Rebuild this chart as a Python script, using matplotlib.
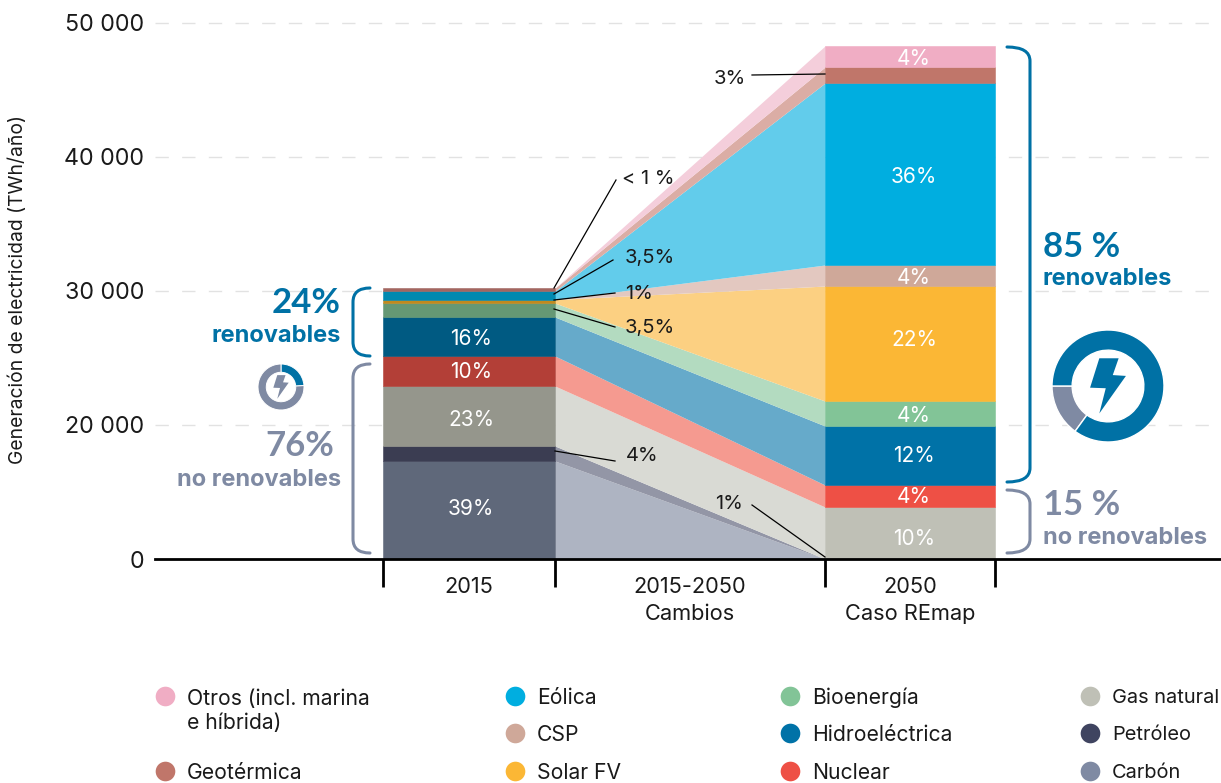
import numpy as np
import matplotlib
matplotlib.use('Agg')
import matplotlib.pyplot as plt
from matplotlib.path import Path
from matplotlib.patches import PathPatch, Polygon

plt.rcParams['font.family'] = ['Inter', 'DejaVu Sans']

# bottom to top, TWh/year as read against the printed axis
sources = ['Carbon', 'Petroleo', 'Gas natural', 'Nuclear', 'Hidro', 'Bioenergia',
           'Solar FV', 'CSP', 'Eolica', 'Geotermica', 'Otros']
values_2015 = [14630, 2240, 6040, 2240, 2910, 1040, 260, 0, 630, 220, 0]
values_2050 = [0, 0, 7760, 3285, 8805, 1940, 8580, 1570, 13580, 1195, 1570]
colors_2015 = ['#5f687a', '#3b3d52', '#95968c', '#b33f37', '#005a82', '#659874',
               '#c08a1e', '#a36660', '#0089b0', '#a36660', '#f0adc4']
colors_change = ['#aeb4c2', '#9396a6', '#d9dad4', '#f59a90', '#66aaca', '#b3dbc0',
                 '#fcd082', '#e3c8c0', '#62cceb', '#dbada5', '#f4cedb']
colors_2050 = ['#7f8aa3', '#3f4460', '#bfc0b6', '#ee5045', '#0072a7', '#82c497',
               '#fbb735', '#cfa899', '#00aee0', '#c0766a', '#f0adc4']
ytick_values = [0, 20000, 30000, 40000, 50000]
ytick_labels = ['0', '20 000', '30 000', '40 000', '50 000']
xtick_labels = ['2015', '2015-2050\nCambios', '2050\nCaso REmap']
edges = [383, 555, 825, 995]
shares_2015 = [24, 76]
shares_2050 = [15, 85]
labels_2015 = ['39%', '23%', '10%', '16%']
labels_2015_y = [507, 418, 370, 337]
labels_2050 = ['10%', '4%', '12%', '4%', '22%', '4%', '36%', '4%']
labels_2050_y = [537, 495, 454, 414, 338, 276, 175, 57]
legend_names = ['Otros (incl. marina\ne híbrida)', 'Geotérmica', 'Eólica', 'CSP', 'Solar FV',
                'Bioenergía', 'Hidroeléctrica', 'Nuclear', 'Gas natural', 'Petróleo', 'Carbón']
legend_colors = ['#f0adc4', '#c0766a', '#00aee0', '#cfa899', '#fbb735',
                 '#82c497', '#0072a7', '#ee5045', '#bfc0b6', '#3f4460', '#7f8aa3']
legend_x = [165, 165, 515, 515, 515, 790, 790, 790, 1090, 1090, 1090]
legend_y = [696, 771, 696, 733, 771, 696, 733, 771, 696, 733, 771]

BLUE = '#0071a5'
GREY = '#7f8aa3'
W, H = 1221, 783


# the printed axis skips 10 000: 0-20 000 takes the same height as one 10 000 step above
def forward(v):
    v = np.asarray(v, dtype=float)
    return np.where(v < 20000, v / 20000, v / 10000 - 1)


def inverse(u):
    u = np.asarray(u, dtype=float)
    return np.where(u < 1, u * 20000, (u + 1) * 10000)


def brace(ax, x0, x1, y0, y1, color):
    # x0 is the spine, x1 the end of the hooks
    r = 14
    verts = [(x1, y0), (x0, y0), (x0, y0 + r), (x0, y1 - r), (x0, y1), (x1, y1)]
    codes = [Path.MOVETO, Path.CURVE3, Path.CURVE3, Path.LINETO, Path.CURVE3, Path.CURVE3]
    ax.add_patch(PathPatch(Path(verts, codes), fill=False, edgecolor=color, lw=2.2, capstyle='round'))


def bolt(ax, cx, cy, s, color):
    pts = np.array([[-0.31, -0.99], [0.38, -0.99], [0.17, -0.39], [0.64, -0.36],
                    [-0.31, 0.98], [-0.08, 0.08], [-0.64, 0.06]])
    ax.add_patch(Polygon(pts * s + [cx, cy], closed=True, facecolor=color, edgecolor='none'))


def donut(fig, cx, cy, radius, shares, colors, start, counterclock, width, sep):
    a = fig.add_axes([(cx - radius) / W, 1 - (cy + radius) / H, 2 * radius / W, 2 * radius / H])
    a.pie(shares, colors=colors, startangle=start, counterclock=counterclock,
          radius=1, wedgeprops={'width': width, 'edgecolor': 'white', 'linewidth': sep})
    a.set_xlim(-1, 1)
    a.set_ylim(-1, 1)
    a.axis('off')


def label(ax, x, y, txt, **kw):
    # va='center' sits about 2 px high with this font
    ax.text(x, y + 2, txt, va='center', **kw)


fig = plt.figure(figsize=(W / 100, H / 100), dpi=100)
ax = fig.add_axes([155 / W, 1 - 559 / H, (W - 155) / W, (559 - 10) / H])
ax.set_yscale('function', functions=(forward, inverse))
ax.set_xlim(155, W)
ax.set_ylim(0, 50970)

bottom_2015 = np.concatenate([[0], np.cumsum(values_2015)])
bottom_2050 = np.concatenate([[0], np.cumsum(values_2050)])
for i in range(len(sources)):
    ax.fill_between(edges[1:3], [bottom_2015[i], bottom_2050[i]], [bottom_2015[i + 1], bottom_2050[i + 1]],
                    color=colors_change[i], lw=0, zorder=3)
    if values_2015[i] > 0:
        ax.fill_between(edges[:2], bottom_2015[i], bottom_2015[i + 1], color=colors_2015[i], lw=0.4, zorder=4)
    if values_2050[i] > 0:
        ax.fill_between(edges[2:], bottom_2050[i], bottom_2050[i + 1], color=colors_2050[i], lw=0.4, zorder=4)

ax.set_yticks(ytick_values)
ax.set_yticklabels(ytick_labels, fontsize=16.7, color='#1a1a1a')
ax.tick_params(axis='y', length=0, pad=8)
ax.grid(axis='y', color='#e2e2e2', lw=1.0, ls=(0, (9.6, 9.6)), zorder=1)
ax.set_xticks(edges)
ax.set_xticklabels([])
ax.set_xticks([469, 690, 910], minor=True)
ax.set_xticklabels(xtick_labels, minor=True, fontsize=15.7, color='#1a1a1a', linespacing=1.45)
ax.tick_params(axis='x', which='major', length=20, width=2, color='black')
ax.tick_params(axis='x', which='minor', length=0, pad=13)
for s in ['left', 'right', 'top']:
    ax.spines[s].set_visible(False)
ax.spines['bottom'].set_linewidth(2)
ax.spines['bottom'].set_zorder(6)
ax.set_axisbelow(True)

# overlay in picture pixels for annotations, braces and legend
ov = fig.add_axes([0, 0, 1, 1], facecolor='none')
ov.set_xlim(0, W)
ov.set_ylim(H, 0)
ov.axis('off')

ov.text(18, 290, 'Generación de electricidad (TWh/año)', rotation=90, ha='center', va='center',
        fontsize=13.9, color='#1a1a1a')

for txt, y in zip(labels_2015, labels_2015_y):
    label(ov, 471, y, txt, color='white', ha='center', fontsize=15)
for txt, y in zip(labels_2050, labels_2050_y):
    label(ov, 914, y, txt, color='white', ha='center', fontsize=15)

notes = [('3%', 730, 77, (752, 75), (825, 74)),
         ('< 1 %', 648, 177, (554, 288), (616, 180)),
         ('3,5%', 650, 256, (554, 294), (613, 260)),
         ('1%', 639, 292, (554, 300), (615, 293)),
         ('3,5%', 650, 326, (554, 309), (615, 327)),
         ('4%', 642, 454, (555, 451), (615, 461)),
         ('1%', 729, 502, (752, 505), (825, 557))]
for txt, tx, ty, p0, p1 in notes:
    label(ov, tx, ty, txt, ha='center', fontsize=14.5, color='#1a1a1a')
    ov.plot([p0[0], p1[0]], [p0[1], p1[1]], color='black', lw=0.9)

brace(ov, 353, 370, 288, 356, BLUE)
brace(ov, 353, 370, 364, 553, GREY)
brace(ov, 1030, 1007, 47, 482, BLUE)
brace(ov, 1030, 1007, 490, 553, GREY)

big = {'fontsize': 25, 'fontweight': 'bold', 'family': ['Lato', 'DejaVu Sans']}
small = {'fontsize': 17, 'fontweight': 'bold'}
label(ov, 341, 301, '24%', ha='right', color=BLUE, **big)
label(ov, 341, 334, 'renovables', ha='right', color=BLUE, **small)
label(ov, 334, 444, '76%', ha='right', color=GREY, **big)
label(ov, 341, 478, 'no renovables', ha='right', color=GREY, **small)
label(ov, 1043, 245, '85 %', ha='left', color=BLUE, **big)
label(ov, 1043, 277, 'renovables', ha='left', color=BLUE, **small)
label(ov, 1043, 503, '15 %', ha='left', color=GREY, **big)
label(ov, 1043, 536, 'no renovables', ha='left', color=GREY, **small)

donut(fig, 281, 387, 23, shares_2015, [BLUE, GREY], 90, False, 0.36, 0.7)
donut(fig, 1108, 386, 56, shares_2050, [GREY, BLUE], 180, True, 0.36, 1.0)
ov2 = fig.add_axes([0, 0, 1, 1], facecolor='none')
ov2.set_xlim(0, W)
ov2.set_ylim(H, 0)
ov2.axis('off')
bolt(ov2, 281, 387, 12, GREY)
bolt(ov2, 1108, 386, 28, BLUE)

for name, c, x, y in zip(legend_names, legend_colors, legend_x, legend_y):
    ov.scatter([x], [y], s=200, color=c, lw=0)
    # last column runs up to the picture edge
    size = 14.4 if x > 1000 else 15.2
    label(ov, x + 22, y if '\n' not in name else y + 13, name, ha='left',
          fontsize=size, color='#1a1a1a', linespacing=1.3)

fig.savefig('out.png', dpi=100)
